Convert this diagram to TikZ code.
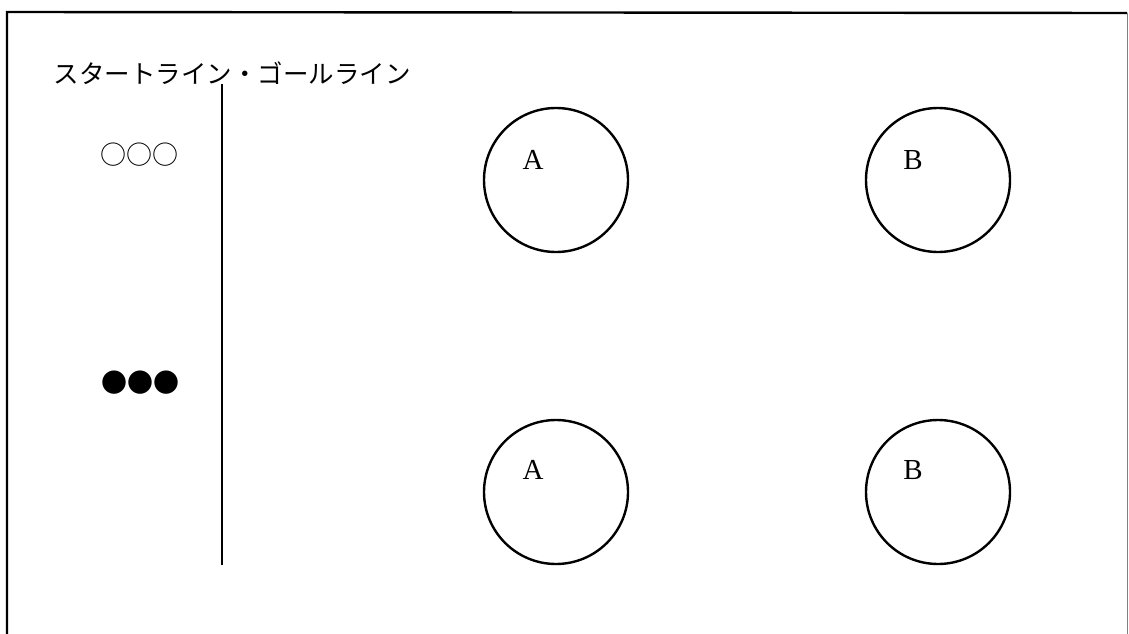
\documentclass[tikz,border=0pt]{standalone}
\usepackage{fontspec}
\newfontfamily\cjk{Noto Sans CJK JP}
\newfontfamily\serifl{Liberation Serif}
\begin{document}
\begin{tikzpicture}[x=1pt,y=-1pt,
  ring/.style={draw,line width=2.4pt,circle,minimum size=144pt,inner sep=0pt},
  lbl/.style={font=\serifl\fontsize{29}{29}\selectfont,inner sep=0pt},
  jp/.style={font=\cjk\fontsize{25.5}{25.5}\selectfont,inner sep=0pt},
  dotsym/.style={font=\cjk\fontsize{26}{26}\selectfont,inner sep=0pt},
  line/.style={line width=2.4pt}]
\useasboundingbox (0,0) rectangle (1129,634);
% frame
\coordinate (fbl) at (7,640);
\coordinate (ftl) at (7,12);
\coordinate (ftr) at (1127,13);
\coordinate (fbr) at (1127,640);
\draw[line width=2.4pt] (fbl) -- (ftl) -- (ftr);
\draw[line width=0.8pt,gray] (ftr) -- (fbr);
% title
\node[jp] (title) at (232,73) {スタートライン・ゴールライン};
% start/goal line
\coordinate (ltop) at (222,84);
\coordinate (lbot) at (222,565);
\draw[line] (ltop) -- (lbot);
% markers
\node[dotsym] (white) at (139,155) {○○○};
\node[dotsym] (black) at (140,383) {●●●};
% circles
\node[ring] (ca1) at (556,180) {};
\node[ring] (cb1) at (938,180) {};
\node[ring] (ca2) at (556,492) {};
\node[ring] (cb2) at (938,492) {};
\node[lbl] (la1) at (533,160) {A};
\node[lbl] (lb1) at (913,160) {B};
\node[lbl] (la2) at (533,470) {A};
\node[lbl] (lb2) at (913,470) {B};
\end{tikzpicture}
\end{document}
